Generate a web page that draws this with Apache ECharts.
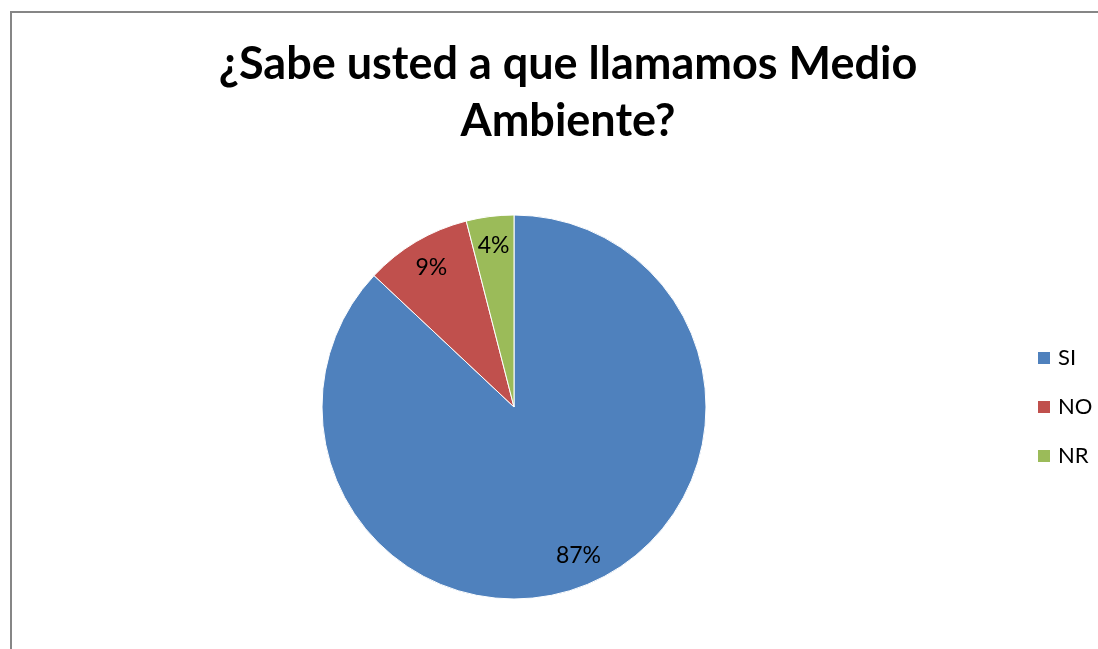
<!DOCTYPE html>
<html>
<head>
<meta charset="utf-8">
<script src="https://cdn.jsdelivr.net/npm/echarts@6/dist/echarts.min.js"></script>
<style>
html,body{margin:0;padding:0;background:#fff;}
#chart{width:1098px;height:649px;}
</style>
</head>
<body>
<div id="chart"></div>
<script>
const titleText = '¿Sabe usted a que llamamos Medio\nAmbiente?';
const categories = ['SI', 'NO', 'NR'];
const values = [87, 9, 4];
const colors = ['#4F81BD', '#C0504D', '#9BBB59'];

const FONT = 'Lato';
const chart = echarts.init(document.getElementById('chart'));
const data = categories.map((c, i) => ({ name: c, value: values[i], itemStyle: { color: colors[i] } }));
const center = [514, 407];
const R = 192;

chart.setOption({
  animation: false,
  backgroundColor: '#fff',
  title: {
    text: titleText,
    left: 563,
    top: 31,
    textAlign: 'center',
    textStyle: { fontFamily: FONT, fontWeight: 'bold', fontSize: 45, lineHeight: 57, color: '#000' }
  },
  legend: {
    orient: 'vertical',
    left: 1031,
    top: 342,
    itemWidth: 14,
    itemHeight: 14,
    itemGap: 27,
    icon: 'rect',
    data: categories,
    textStyle: { fontFamily: FONT, fontSize: 22, lineHeight: 22, color: '#000', padding: [0, 0, 0, 2] }
  },
  graphic: [{
    type: 'rect',
    shape: { x: 11, y: 12, width: 3000, height: 3000 },
    style: { fill: 'none', stroke: '#868686', lineWidth: 2 },
    silent: true,
    z: 100
  }],
  series: [{
    type: 'pie',
    center: center,
    radius: R,
    startAngle: 90,
    clockwise: true,
    data: data,
    label: { show: false },
    labelLine: { show: false },
    itemStyle: { borderColor: '#fff', borderWidth: 1 },
    emphasis: { disabled: true }
  }, {
    type: 'pie',
    center: center,
    radius: [R * 0.66, R],
    startAngle: 90,
    clockwise: true,
    data: categories.map((c, i) => ({ name: c, value: values[i] })),
    itemStyle: { color: 'rgba(0,0,0,0)', borderWidth: 0 },
    label: {
      show: true,
      position: 'inside',
      formatter: p => p.value + '%',
      fontFamily: FONT, fontSize: 23, color: '#000'
    },
    labelLine: { show: false },
    silent: true,
    emphasis: { disabled: true },
    legendHoverLink: false
  }]
});
</script>
</body>
</html>
